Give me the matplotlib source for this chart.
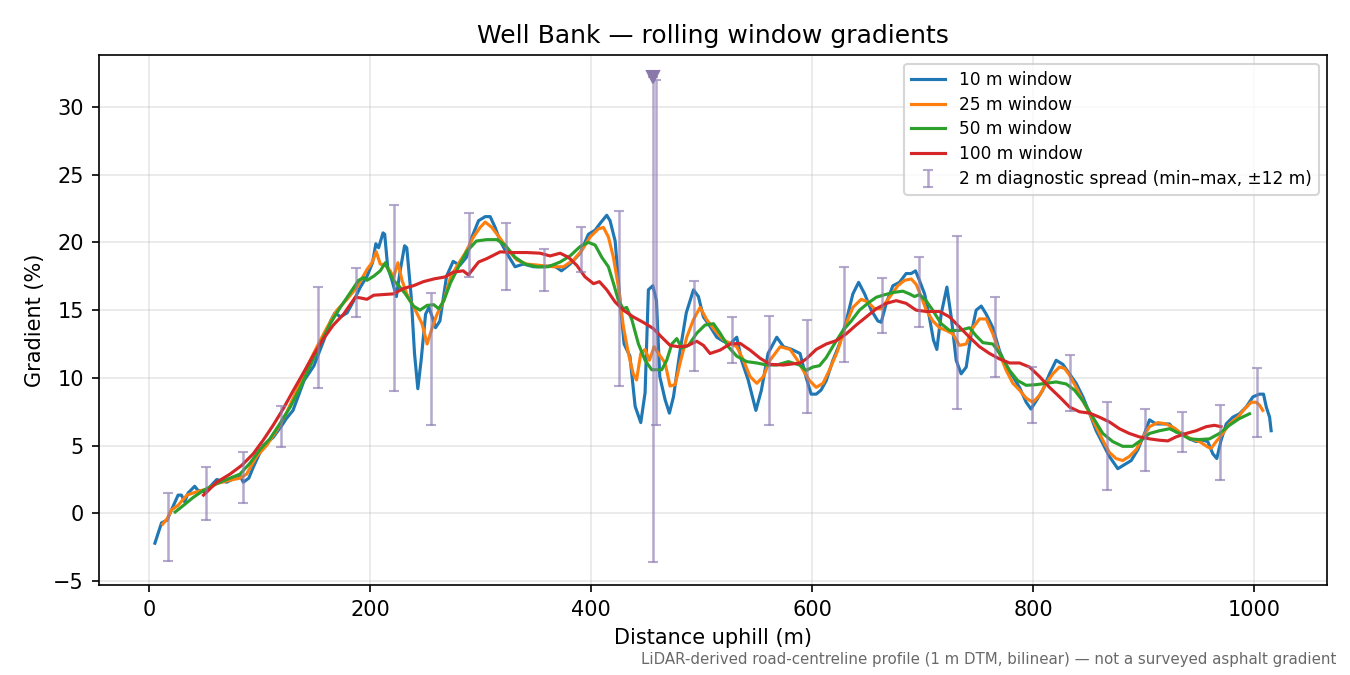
import numpy as np
import matplotlib
matplotlib.use("Agg")
import matplotlib.pyplot as plt

# 10 m window
d10 = [5, 11, 16, 20, 26, 29, 32, 35, 41, 44, 50, 53, 61, 70, 82, 85, 90, 94, 103, 112,
       120, 124, 130, 140, 149, 158, 164, 168, 173, 179, 185, 191, 197, 202, 205, 207.5,
       211.5, 213, 215.7, 219.6, 223.6, 227, 231, 233, 237, 240, 243, 246, 250, 253, 256,
       259, 263, 269, 275, 281, 287, 292, 298, 304, 308.5, 313, 317.5, 323.5, 331, 338.6,
       347.7, 356.7, 365.8, 373, 380.8, 390, 397.4, 403.5, 408, 414, 417, 421.6, 426,
       429.7, 435, 439.7, 444.8, 448.7, 451.7, 455.7, 459, 462, 466.8, 470.7, 474.4, 480,
       486, 492.5, 497, 501.5, 507.5, 513.6, 519.6, 525.6, 531.7, 536, 542, 549, 554, 560,
       567.9, 574, 581.5, 589, 594.6, 599, 603.6, 608, 612.7, 618.7, 624.7, 630.8, 636.8,
       642, 647.4, 653.4, 659.4, 662.4, 667, 673, 679, 685, 689.6, 693.5, 697, 701.7, 706,
       709.7, 712.8, 716.7, 721.9, 725.8, 730.3, 734.8, 739.4, 743.9, 748.4, 753, 757.5,
       763.5, 769.5, 775.6, 781.6, 787.6, 793.7, 798, 802.7, 808.7, 814.8, 820.8, 826.8,
       832.9, 838.9, 845, 851, 857, 863, 869, 876.6, 882.6, 888.7, 894.7, 900.8, 905.3,
       911.3, 917.4, 923.4, 929.4, 935.5, 941.5, 947.5, 953.5, 958, 962.6, 966.2, 970.1,
       974.7, 980.7, 986.7, 992.8, 998.9, 1004.8, 1008.5, 1011, 1014, 1015.4]
g10 = [-2.2, -0.7, -0.5, 0.25, 1.35, 1.35, 0.85, 1.5, 2.0, 1.7, 1.6, 1.8, 2.5, 2.3, 2.8, 2.3,
       2.6, 3.4, 5.0, 5.6, 6.5, 7.0, 7.6, 9.8, 10.9, 12.8, 14.2, 14.8, 14.5, 14.8, 15.7, 16.7,
       17.5, 18.5, 19.9, 19.6, 20.7, 20.6, 18.2, 17.2, 16.0, 17.9, 19.75, 19.6, 16.0, 11.8,
       9.2, 11.3, 14.7, 15.2, 14.5, 13.7, 14.2, 17.5, 18.6, 18.3, 18.9, 20.4, 21.6, 21.9,
       21.9, 21.1, 20.1, 19.2, 18.2, 18.4, 18.2, 18.2, 18.3, 17.9, 18.4, 19.2, 20.6, 20.9,
       21.4, 22.0, 21.6, 20.1, 15.7, 12.5, 11.6, 7.9, 6.7, 8.9, 16.5, 16.8, 15.7, 10.1, 8.4,
       7.4, 8.6, 11.8, 14.8, 16.5, 16.0, 14.5, 13.8, 13.0, 12.7, 12.5, 13.0, 11.3, 9.85, 7.6,
       9.1, 11.8, 13.0, 12.3, 12.1, 11.8, 10.0, 8.8, 8.8, 9.1, 9.8, 11.3, 12.5, 14.2, 16.2,
       17.05, 16.2, 15.0, 14.2, 14.1, 15.5, 16.8, 17.05, 17.7, 17.7, 17.9, 17.2, 16.2, 14.5,
       12.8, 12.1, 14.7, 16.7, 14.5, 11.3, 10.3, 10.8, 13.25, 15.0, 15.3, 14.7, 13.7, 12.0,
       10.8, 10.1, 9.3, 8.2, 7.7, 8.3, 9.1, 10.3, 11.3, 11.0, 10.3, 9.6, 8.6, 7.4, 6.1,
       5.15, 4.2, 3.3, 3.6, 3.9, 4.7, 5.9, 6.9, 6.6, 6.6, 6.6, 6.0, 5.9, 5.5, 5.3, 5.4, 5.3,
       4.4, 4.05, 5.4, 6.6, 7.1, 7.35, 7.85, 8.6, 8.8, 8.8, 7.85, 7.1, 6.1]

# 25 m window
d25 = [12, 16, 20, 26, 34, 43, 52, 61, 73, 82, 88, 97, 106, 115, 124, 133.5, 142.6, 151.7,
       160.7, 169.8, 178.9, 188, 197, 201.5, 205.4, 209, 213.6, 218, 221, 225, 228.7, 233,
       240.8, 246.8, 251.4, 256, 260.4, 266.5, 272.5, 278, 285.8, 293.4, 299.4, 304, 310,
       317.5, 325, 332.6, 341.6, 353.7, 365.8, 374.8, 383.9, 391.4, 399, 406.5, 411, 415.5,
       420, 424.6, 429, 433.6, 438, 441, 444.8, 448.7, 452.6, 456.9, 460.8, 466.8, 471.3,
       475.9, 480.4, 486.4, 492.5, 498.5, 504.5, 512, 519.6, 527, 531.7, 537.7, 543.7,
       549.8, 555.8, 561.8, 571, 580, 587.5, 591.5, 597.6, 603.6, 609.7, 615.7, 623, 630.8,
       636.8, 644.3, 650.3, 656.4, 662.4, 670, 677.5, 683.6, 689.6, 694.1, 698.6, 703.2,
       709.2, 715.2, 721.3, 727.3, 733.3, 739.4, 745.4, 751.4, 757.5, 763.5, 769.5, 775.6,
       781.6, 787.6, 793.7, 799.7, 805.7, 811.8, 817.8, 823.8, 828.4, 832.9, 838.9, 845,
       851, 857, 863, 869, 875, 881, 887, 893.2, 899.2, 905.3, 912.8, 920.4, 927.9, 935.5,
       943, 950.5, 958, 961, 965.6, 971.6, 977.6, 985.2, 991.3, 997.3, 1001.8, 1004.8, 1007.8]
g25 = [-0.8, -0.4, 0.25, 0.6, 1.35, 1.6, 1.8, 2.2, 2.45, 2.6, 2.9, 4.2, 5.0, 6.1, 7.4, 9.1,
       10.8, 12.3, 13.7, 15.0, 15.8, 16.7, 18.0, 18.5, 19.3, 18.4, 18.3, 17.9, 17.4, 18.5,
       17.2, 16.2, 15.0, 14.0, 12.5, 13.7, 14.7, 15.7, 17.4, 18.2, 19.2, 20.4, 21.1, 21.5,
       21.1, 20.3, 19.4, 18.7, 18.4, 18.3, 18.2, 18.2, 18.7, 19.4, 20.4, 21.0, 21.1, 20.4,
       18.9, 16.7, 13.8, 11.8, 10.3, 9.85, 11.8, 12.1, 11.3, 12.3, 11.8, 11.1, 9.4, 9.5,
       11.1, 13.0, 14.3, 15.2, 14.3, 13.5, 12.8, 12.5, 12.3, 11.3, 10.1, 9.6, 10.1, 11.3,
       12.3, 12.1, 11.2, 10.6, 9.8, 9.3, 9.6, 10.6, 12.0, 14.0, 15.2, 15.8, 15.6, 15.1, 15.1,
       15.95, 16.8, 17.2, 17.3, 16.9, 16.0, 15.0, 14.2, 13.7, 13.5, 13.25, 12.4, 12.5, 13.7,
       14.35, 14.35, 13.25, 11.8, 10.55, 9.6, 9.1, 8.5, 8.2, 8.7, 9.6, 10.3, 10.8, 10.7,
       10.2, 9.3, 8.3, 7.4, 6.4, 5.4, 4.5, 4.05, 3.9, 4.2, 4.7, 5.6, 6.4, 6.7, 6.6, 6.3, 5.8,
       5.5, 5.3, 4.9, 4.8, 5.3, 5.9, 6.6, 7.1, 7.7, 8.2, 8.2, 8.0, 7.6]

# 50 m window
d50 = [23.3, 31, 40, 49, 61, 73, 82, 91, 100, 109, 118, 127.5, 136.6, 145.6, 154.7, 163.7,
       172.8, 181.9, 189.4, 194, 197, 203, 209, 213.6, 216.6, 221, 225.7, 231.7, 239, 245,
       251.4, 257.4, 262, 266.5, 272.5, 278, 287, 296, 305.4, 314.5, 322, 331, 340, 350.7,
       361, 371.8, 380.8, 390, 397.4, 403.5, 409.5, 415.5, 420, 424.6, 429, 432, 436.7,
       442.7, 448.7, 454.7, 463.8, 468.3, 472.9, 477.4, 481.9, 488, 495.5, 503, 510.6,
       516.6, 524, 531.7, 540.7, 549.8, 558.8, 567.9, 578.4, 588.5, 594.6, 600.6, 606.6,
       612.7, 620, 627.8, 635.3, 642.8, 650.3, 658, 664, 673, 682, 688, 692.6, 697, 703,
       709, 716.7, 724.3, 733.3, 742.4, 748.4, 754.5, 763.5, 771, 778.6, 786, 793.7, 802.7,
       811.8, 820.8, 829.9, 837.4, 845, 854, 863, 872, 881, 890, 897.7, 905.3, 914.3, 923.4,
       932.4, 941.5, 950.5, 959.6, 968.6, 977.6, 986.7, 995.8]
g50 = [0.1, 0.6, 1.2, 1.7, 2.2, 2.6, 2.9, 3.7, 4.7, 5.5, 6.6, 7.85, 9.3, 10.9, 12.5, 14.0,
       15.2, 16.3, 17.2, 17.4, 17.2, 17.5, 17.9, 18.5, 17.9, 17.2, 16.8, 16.2, 15.3, 15.0,
       15.35, 15.4, 15.1, 15.7, 17.0, 17.9, 19.3, 20.1, 20.2, 20.2, 19.8, 18.9, 18.4, 18.2,
       18.2, 18.55, 19.0, 19.7, 20.0, 19.8, 18.9, 18.2, 17.0, 15.7, 15.1, 15.2, 14.3, 12.5,
       11.3, 10.6, 10.6, 11.3, 12.5, 12.9, 12.2, 12.4, 13.3, 13.9, 14.0, 13.3, 12.3, 11.6,
       11.2, 11.1, 10.95, 10.95, 11.2, 10.95, 10.55, 10.8, 10.9, 11.5, 12.5, 13.5, 14.2,
       15.0, 15.5, 15.95, 16.1, 16.3, 16.4, 16.2, 16.0, 16.15, 15.7, 15.0, 14.0, 13.5, 13.5,
       13.7, 13.1, 12.6, 12.5, 11.65, 10.55, 9.8, 9.45, 9.5, 9.6, 9.7, 9.55, 9.1, 8.3, 7.1,
       5.9, 5.3, 4.95, 4.95, 5.4, 5.9, 6.1, 6.25, 5.9, 5.5, 5.45, 5.5, 5.9, 6.5, 7.0, 7.35]

# 100 m window
d100 = [49, 61, 73, 83.7, 94, 103, 112, 121, 130.5, 139.6, 148.6, 157.7, 166.5, 175.8,
        183.4, 186.4, 191, 197, 203, 212, 221, 230, 239, 248, 257.4, 267.7, 275, 284, 288.8,
        298, 305.4, 317.5, 329.6, 341.6, 353.7, 362.7, 371.8, 379.3, 386.9, 394.4, 402,
        407.4, 414, 421.6, 429, 438, 447, 456, 463.8, 471.3, 478.9, 486.4, 495.5, 501.5,
        507.5, 516.6, 525.6, 534.7, 543.7, 552.8, 561.8, 574, 589, 594.6, 603.6, 612.7,
        621.7, 630.8, 639.8, 648.9, 658, 667, 676, 685, 694, 703.2, 715.2, 724.3, 733.3,
        742.4, 751.4, 760.5, 769.5, 778.6, 787.6, 796.7, 805.7, 814.8, 823.8, 832.9, 841.9,
        851, 860, 869, 878, 887, 896, 905.3, 914.3, 921.9, 929.4, 938.5, 947.5, 956.6, 964,
        970]
g100 = [1.35, 2.3, 2.9, 3.55, 4.4, 5.4, 6.5, 7.7, 9.1, 10.4, 11.7, 12.9, 13.9, 14.7, 15.6,
        15.95, 15.9, 15.8, 16.1, 16.15, 16.2, 16.6, 16.8, 17.1, 17.3, 17.45, 17.8, 17.9,
        17.6, 18.55, 18.8, 19.3, 19.25, 19.25, 19.2, 19.0, 19.2, 18.9, 18.3, 17.45, 16.95,
        17.1, 16.5, 15.6, 15.0, 14.5, 14.1, 13.65, 13.0, 12.4, 12.3, 12.35, 12.7, 12.4, 11.8,
        12.05, 12.5, 12.55, 12.05, 11.45, 11.0, 10.95, 11.1, 11.4, 12.1, 12.5, 12.75, 13.25,
        13.9, 14.5, 15.1, 15.5, 15.7, 15.5, 15.0, 14.9, 14.9, 14.5, 13.75, 13.0, 12.3, 11.8,
        11.4, 11.1, 11.1, 10.8, 10.1, 9.3, 8.6, 7.85, 7.5, 7.4, 7.1, 6.75, 6.25, 5.9, 5.65,
        5.5, 5.4, 5.35, 5.65, 5.9, 6.1, 6.4, 6.5, 6.4]

# 2 m diagnostic spread, min-max over +-12 m
spread_x = [17, 51, 85, 119, 153, 187, 221, 255, 289, 323, 357, 391, 425, 459, 493, 527,
            561, 595, 629, 663, 697, 731, 765, 799, 833, 867, 901, 935, 969, 1003]
spread_lo = [-3.5, -0.5, 0.8, 4.9, 9.25, 14.5, 9.0, 6.5, 17.45, 16.5, 16.4, 17.8, 9.4, 6.5,
             10.5, 11.1, 6.5, 7.4, 11.15, 13.3, 13.75, 7.7, 10.1, 6.7, 7.55, 1.7, 3.1, 4.55,
             2.5, 5.65]
spread_hi = [1.5, 3.4, 4.5, 7.9, 16.7, 18.1, 22.75, 16.3, 22.2, 21.4, 19.5, 21.1, 22.3, 32.0,
             17.15, 14.5, 14.55, 14.3, 18.15, 17.4, 18.9, 20.5, 15.95, 10.8, 11.7, 8.2, 7.7,
             7.5, 8.0, 10.7]

# clipped spike
spike_x = [455.6]
spike_lo = [-3.6]
spike_hi = [32.2]

fig, ax = plt.subplots(figsize=(9, 4.5), dpi=150)
fig.subplots_adjust(left=0.073, right=0.983, top=0.918, bottom=0.133)

ax.plot(d10, g10, color="tab:blue", lw=1.5, label="10 m window")
ax.plot(d25, g25, color="tab:orange", lw=1.5, label="25 m window")
ax.plot(d50, g50, color="tab:green", lw=1.5, label="50 m window")
ax.plot(d100, g100, color="tab:red", lw=1.5, label="100 m window")

lo = np.array(spread_lo)
hi = np.array(spread_hi)
ax.errorbar(spread_x, lo, yerr=[np.zeros_like(lo), hi - lo], fmt="none",
            ecolor="#8c7bb3", alpha=0.65, elinewidth=1.2, capsize=2.5,
            label="2 m diagnostic spread (min\u2013max, \u00b112 m)")
slo = np.array(spike_lo)
shi = np.array(spike_hi)
ax.errorbar(spike_x, slo, yerr=[np.zeros_like(slo), shi - slo], fmt="none",
            ecolor="#8c7bb3", alpha=0.65, elinewidth=1.2, capsize=2.5)
ax.plot(spike_x, spike_hi, marker="v", color="#8a78aa", markersize=6, ls="none")

ax.set_xlim(-46, 1066)
ax.set_ylim(-5.3, 33.8)
ax.grid(True, alpha=0.3)
ax.set_xlabel("Distance uphill (m)")
ax.set_ylabel("Gradient (%)")
ax.set_title("Well Bank \u2014 rolling window gradients")
ax.legend(loc="upper right", fontsize=8.2, labelspacing=0.4)

fig.text(0.99, 0.012,
         "LiDAR-derived road-centreline profile (1 m DTM, bilinear) \u2014 not a surveyed asphalt gradient",
         ha="right", va="bottom", fontsize=7.2, color="dimgray")

fig.savefig("out.png", dpi=150)
